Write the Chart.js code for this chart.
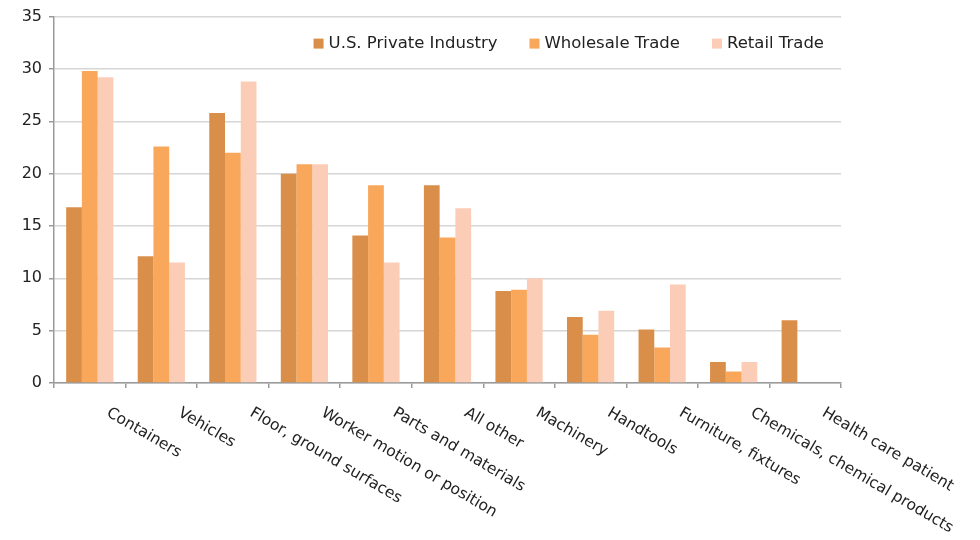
<!DOCTYPE html>
<html>
<head>
<meta charset="utf-8">
<style>
  html, body { margin: 0; padding: 0; background: #fff; }
  #wrap { width: 980px; height: 540px; }
</style>
<script src="https://cdn.jsdelivr.net/npm/chart.js@4/dist/chart.umd.min.js"></script>
</head>
<body>
<div id="wrap"><canvas id="chart" width="980" height="540"></canvas></div>
<script>
// Data
const categories = [
    'Containers', 'Vehicles', 'Floor, ground surfaces', 'Worker motion or position',
    'Parts and materials', 'All other', 'Machinery', 'Handtools',
    'Furniture, fixtures', 'Chemicals, chemical products', 'Health care patient'
];
const seriesNames = ['U.S. Private Industry', 'Wholesale Trade', 'Retail Trade'];
const privateIndustry = [16.8, 12.1, 25.8, 20.0, 14.1, 18.9, 8.8, 6.3, 5.1, 2.0, 6.0];
const wholesaleTrade = [29.8, 22.6, 22.0, 20.9, 18.9, 13.9, 8.9, 4.6, 3.4, 1.1, null];
const retailTrade = [29.2, 11.5, 28.8, 20.9, 11.5, 16.7, 10.0, 6.9, 9.4, 2.0, null];
const yMin = 0, yMax = 35, yStep = 5;

const colors = ['#D98F4A', '#F9A75A', '#FBCDB6'];
const fontFamily = '"DejaVu Sans", Verdana, sans-serif';

// x labels go down to the right, which Chart.js can't rotate that way, so draw them here
const slantedLabels = {
    id: 'slantedLabels',
    afterDraw(chart) {
        const xs = chart.scales.x;
        const ctx = chart.ctx;
        ctx.save();
        ctx.font = '15.5px ' + fontFamily;
        ctx.fillStyle = '#222';
        ctx.textAlign = 'left';
        ctx.textBaseline = 'top';
        chart.data.labels.forEach((lbl, i) => {
            ctx.save();
            ctx.translate(xs.getPixelForTick(i) + 22, xs.top + 22);
            ctx.rotate(30.5 * Math.PI / 180);
            ctx.fillText(lbl, 0, 0);
            ctx.restore();
        });
        ctx.restore();
    }
};

// legend sits inside the plot, top right
const innerLegend = {
    id: 'innerLegend',
    afterDraw(chart) {
        const ctx = chart.ctx;
        const area = chart.chartArea;
        ctx.save();
        ctx.font = '16.5px ' + fontFamily;
        ctx.textBaseline = 'middle';
        const box = 10, gapText = 5, gapItem = 32;
        const items = chart.data.datasets.map(ds => ({
            text: ds.label, color: ds.backgroundColor,
            w: box + gapText + ctx.measureText(ds.label).width
        }));
        const total = items.reduce((a, it) => a + it.w, 0) + gapItem * (items.length - 1);
        let x = area.right - 17 - total;
        const yMid = area.top + 27;
        items.forEach(it => {
            ctx.fillStyle = it.color;
            ctx.fillRect(x, yMid - box / 2, box, box);
            ctx.fillStyle = '#222';
            ctx.fillText(it.text, x + box + gapText, yMid);
            x += it.w + gapItem;
        });
        ctx.restore();
    }
};

new Chart(document.getElementById('chart').getContext('2d'), {
    type: 'bar',
    data: {
        labels: categories,
        datasets: [
            { label: seriesNames[0], data: privateIndustry, backgroundColor: colors[0] },
            { label: seriesNames[1], data: wholesaleTrade, backgroundColor: colors[1] },
            { label: seriesNames[2], data: retailTrade, backgroundColor: colors[2] }
        ]
    },
    options: {
        responsive: false,
        animation: false,
        layout: { padding: { top: 15, right: 139, bottom: 0, left: 0 } },
        datasets: {
            bar: { categoryPercentage: 0.66, barPercentage: 1.0, borderWidth: 0 }
        },
        plugins: {
            legend: { display: false },
            tooltip: { enabled: false }
        },
        scales: {
            x: {
                grid: {
                    offset: true,
                    drawOnChartArea: false,
                    drawTicks: true,
                    tickLength: 5,
                    tickColor: '#9a9a9a',
                    lineWidth: 1.5
                },
                border: { color: '#9a9a9a', width: 1.5 },
                ticks: { display: false },
                afterFit(scale) { scale.height = 157; }
            },
            y: {
                min: yMin,
                max: yMax,
                ticks: {
                    stepSize: yStep,
                    padding: 7,
                    color: '#222',
                    font: { family: fontFamily, size: 16 }
                },
                grid: {
                    color: '#d6d6d6',
                    lineWidth: 1.5,
                    tickLength: 5,
                    tickColor: '#9a9a9a'
                },
                border: { color: '#9a9a9a', width: 1.5 },
                afterFit(scale) { scale.width = 54; }
            }
        }
    },
    plugins: [slantedLabels, innerLegend]
});
</script>
</body>
</html>
